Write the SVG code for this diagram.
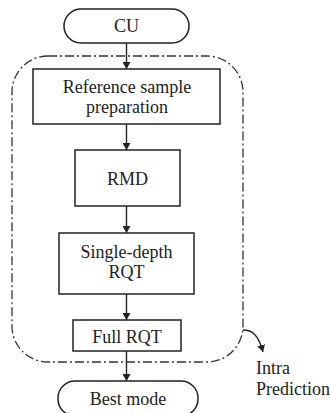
<svg xmlns="http://www.w3.org/2000/svg" width="330" height="413" viewBox="0 0 330 413">
<style>
.b{fill:#fff;stroke:#222;stroke-width:1.5}
.t{font-family:"Liberation Serif","Times New Roman",serif;font-size:18px;fill:#222;text-anchor:middle}
.c{fill:none;stroke:#222;stroke-width:1.4}
.g{fill:none;stroke:#333;stroke-width:1.3;stroke-dasharray:9 3 2 3}
</style>
<defs>
<marker id="ah" markerWidth="7" markerHeight="8" refX="7" refY="4" orient="auto" markerUnits="userSpaceOnUse">
<path d="M0,0 L7,4 L0,8 Z" fill="#222"/>
</marker>
</defs>
<rect id="group" class="g" x="12" y="56" width="231" height="306" rx="36" ry="36"/>
<g id="connectors">
<line class="c" x1="126.5" y1="43" x2="126.5" y2="69" marker-end="url(#ah)"/>
<line class="c" x1="126.5" y1="124" x2="126.5" y2="150" marker-end="url(#ah)"/>
<line class="c" x1="126.5" y1="206" x2="126.5" y2="233" marker-end="url(#ah)"/>
<line class="c" x1="126.5" y1="294" x2="126.5" y2="320" marker-end="url(#ah)"/>
<line class="c" x1="126.5" y1="351" x2="126.5" y2="381" marker-end="url(#ah)"/>
<path class="c" d="M243,330 C252,330 258,334 263,352" marker-end="url(#ah)"/>
</g>
<g id="cu"><rect class="b" x="64" y="9" width="125" height="34" rx="17"/><text class="t" x="126.5" y="32">CU</text></g>
<g id="ref"><rect class="b" x="33" y="69" width="187" height="55"/><text class="t" x="127" y="93">Reference sample</text><text class="t" x="127" y="113">preparation</text></g>
<g id="rmd"><rect class="b" x="75" y="150" width="105" height="56"/><text class="t" x="127.5" y="185">RMD</text></g>
<g id="sdrqt"><rect class="b" x="59" y="233" width="135" height="61"/><text class="t" x="126.5" y="258">Single-depth</text><text class="t" x="126.5" y="278">RQT</text></g>
<g id="fullrqt"><rect class="b" x="73" y="320" width="108" height="31"/><text class="t" x="127" y="343">Full RQT</text></g>
<g id="best"><rect class="b" x="58" y="381" width="140" height="35" rx="17"/><text class="t" x="128" y="405">Best mode</text></g>
<g id="label"><text class="t" style="text-anchor:start" x="256" y="374">Intra</text><text class="t" style="text-anchor:start" x="256" y="395">Prediction</text></g>
</svg>
